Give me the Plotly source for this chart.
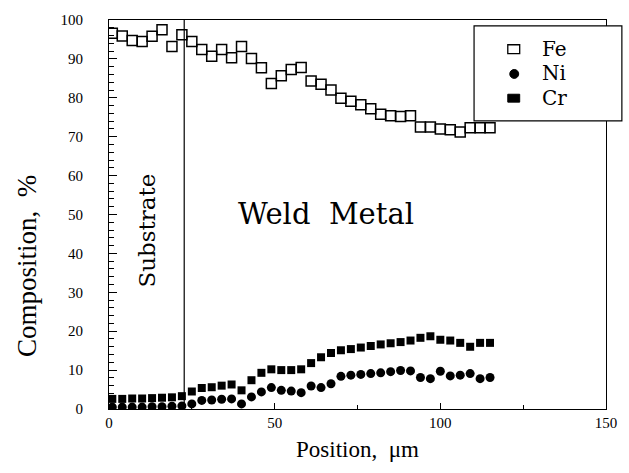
import plotly.graph_objects as go

# Position (µm) of each measurement point
position = [1 + 3 * k for k in range(39)]

fe = [96.6, 95.9, 94.7, 94.5, 95.8, 97.5, 93.2, 96.2, 94.5, 92.4,
      90.7, 92.4, 90.3, 93.2, 90.1, 87.7, 83.7, 85.7, 87.3, 87.8,
      84.3, 83.5, 82.0, 79.9, 79.1, 78.2, 77.2, 75.8, 75.4, 75.2,
      75.4, 72.5, 72.5, 72.0, 71.8, 71.2, 72.3, 72.3, 72.3]

ni = [0.5, 0.5, 0.5, 0.5, 0.6, 0.6, 0.7, 0.8, 1.3, 2.2,
      2.3, 2.5, 2.6, 1.3, 3.1, 4.4, 5.5, 4.8, 4.6, 4.2,
      5.9, 5.5, 6.5, 8.4, 8.7, 8.9, 9.1, 9.3, 9.6, 9.9,
      9.8, 8.1, 7.8, 9.7, 8.5, 8.7, 9.1, 7.8, 8.1]

cr = [2.6, 2.6, 2.7, 2.7, 2.8, 2.9, 3.0, 3.3, 4.5, 5.4,
      5.6, 6.0, 6.3, 4.8, 7.4, 9.3, 10.2, 10.0, 10.0, 10.2,
      11.8, 13.3, 14.4, 15.1, 15.4, 15.8, 16.2, 16.6, 16.9, 17.2,
      17.6, 18.3, 18.7, 17.8, 17.6, 17.0, 16.0, 17.0, 17.0]

series_names = ["Fe", "Ni", "Cr"]
substrate_boundary = 22.7

serif = "Liberation Serif"
wide = "DejaVu Serif"

fig = go.Figure()
fig.add_trace(go.Scatter(x=position, y=fe, mode="markers", name=series_names[0],
                         marker=dict(symbol="square-open", size=10, color="black",
                                     line=dict(width=1.5, color="black"))))
fig.add_trace(go.Scatter(x=position, y=ni, mode="markers", name=series_names[1],
                         marker=dict(symbol="circle", size=9, color="black")))
fig.add_trace(go.Scatter(x=position, y=cr, mode="markers", name=series_names[2],
                         marker=dict(symbol="square", size=8, color="black")))

W, H = 629, 473
L, R, T, B = 109, 19, 16, 64
pw, ph = W - L - R, H - T - B

def px(xp):
    return (xp - L) / pw

def py(yp):
    return (H - B - yp) / ph

fig.add_shape(type="line", xref="x", yref="paper", x0=substrate_boundary, x1=substrate_boundary,
              y0=0, y1=1, line=dict(color="black", width=1.2))

# legend box (drawn manually)
legend_rows = [45, 70, 95]
fig.add_shape(type="rect", xref="paper", yref="paper", x0=px(477), x1=px(626), y0=py(118), y1=py(22),
              line=dict(color="black", width=1.2), fillcolor="white", layer="above")
# legend symbols
r0, r1, r2 = legend_rows
fig.add_shape(type="rect", xref="paper", yref="paper", x0=px(511), x1=px(523), y0=py(r0 + 5), y1=py(r0 - 4),
              line=dict(color="black", width=1.3), fillcolor="white", layer="above")
fig.add_shape(type="circle", xref="paper", yref="paper", x0=px(513), x1=px(522), y0=py(r1 + 5), y1=py(r1 - 4),
              line=dict(color="black", width=1), fillcolor="black", layer="above")
fig.add_shape(type="rect", xref="paper", yref="paper", x0=px(511), x1=px(523), y0=py(r2 + 4), y1=py(r2 - 4),
              line=dict(color="black", width=1), fillcolor="black", layer="above")
for name, yy in zip(series_names, legend_rows):
    fig.add_annotation(text=name, x=px(543), y=py(yy), xref="paper", yref="paper",
                       xanchor="left", yanchor="middle", showarrow=False,
                       font=dict(family=wide, size=20, color="black"))

fig.add_annotation(text="Weld  Metal", x=px(328), y=py(212), xref="paper", yref="paper",
                   xanchor="center", yanchor="middle",
                   showarrow=False, font=dict(family=wide, size=29, color="black"))
fig.add_annotation(text="Substrate", x=px(147), y=py(229), xref="paper", yref="paper",
                   xanchor="center", yanchor="middle",
                   showarrow=False, textangle=-90, font=dict(family=wide, size=23, color="black"))
fig.add_annotation(text="Composition,  %", x=px(27), y=py(265), xref="paper", yref="paper",
                   xanchor="center", yanchor="middle",
                   showarrow=False, textangle=-90, font=dict(family=serif, size=27, color="black"))
fig.add_annotation(text="Position,  μm", x=px(359), y=py(450), xref="paper", yref="paper",
                   xanchor="center", yanchor="middle",
                   showarrow=False, font=dict(family=serif, size=23, color="black"))

fig.update_layout(
    width=W, height=H,
    margin=dict(l=L, r=R, t=T, b=B),
    paper_bgcolor="white", plot_bgcolor="white",
    showlegend=False,
    font=dict(family=serif, color="black"),
)
fig.update_xaxes(range=[0, 150], tickvals=[0, 50, 100, 150], ticks="inside", ticklen=6,
                 tickcolor="black", showline=True, linecolor="black", linewidth=1.2, mirror=True,
                 showgrid=False, zeroline=False, tickfont=dict(family=serif, size=15, color="black"),
                 minor=dict(dtick=25, ticks="inside", ticklen=4, tickcolor="black"))
fig.update_yaxes(range=[0, 100], dtick=10, ticks="inside", ticklen=8,
                 tickcolor="black", showline=True, linecolor="black", linewidth=1.2, mirror=True,
                 showgrid=False, zeroline=False, tickfont=dict(family=serif, size=15, color="black"),
                 ticklabelstandoff=22,
                 minor=dict(dtick=2, ticks="inside", ticklen=5, tickcolor="black"))

fig.write_html("out.html")
